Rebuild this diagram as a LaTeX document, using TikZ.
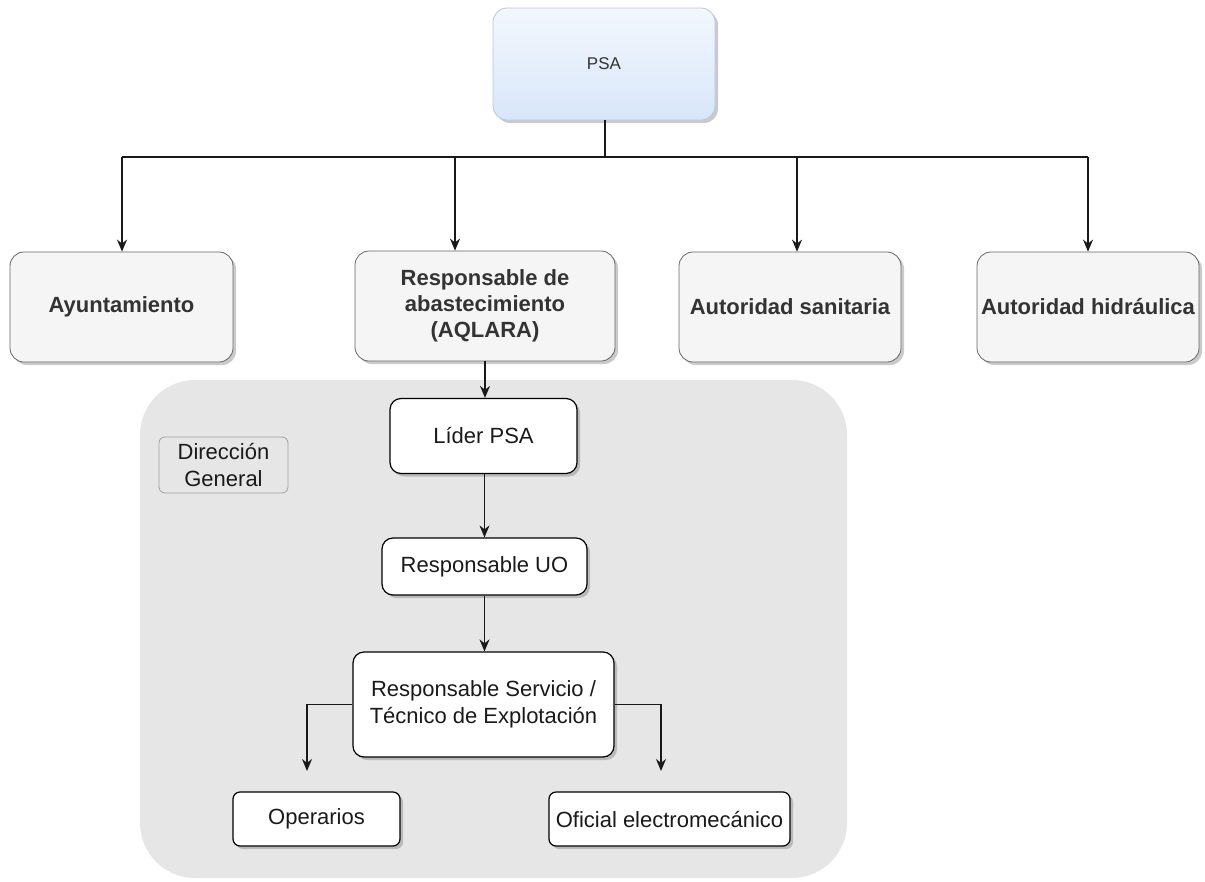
\documentclass[tikz,border=0pt]{standalone}
\usepackage{fontspec}
\setmainfont{Liberation Sans}
\usetikzlibrary{shadows,arrows.meta}
\definecolor{cgrayline}{HTML}{666666}
\definecolor{cgrayfill}{HTML}{F5F5F5}
\definecolor{ctext}{HTML}{333333}
\definecolor{cdark}{HTML}{1A1A1A}
\definecolor{cgroup}{HTML}{E6E6E6}
\definecolor{cdgline}{HTML}{A0A0A0}
\definecolor{cbluetop}{HTML}{F3F7FD}
\definecolor{cbluebot}{HTML}{D8E6FA}
\definecolor{cblueline}{HTML}{B4C8E4}
\begin{document}
\begin{tikzpicture}[x=1pt,y=-1pt,
  shadowed/.style={drop shadow={shadow xshift=3pt,shadow yshift=-3pt,opacity=0.35,fill=black!60}},
  psabox/.style={shadowed,draw=cblueline,line width=0.8pt,top color=cbluetop,bottom color=cbluebot,
    rounded corners=14pt,inner sep=0pt,font=\fontsize{17}{20}\selectfont,text=ctext,
    minimum width=222pt,minimum height=112pt},
  topbox/.style={shadowed,draw=cgrayline,fill=cgrayfill,line width=0.8pt,rounded corners=14pt,
    inner sep=0pt,align=center,font=\fontsize{22}{26}\selectfont\bfseries,text=ctext,
    minimum height=110pt},
  innerbox/.style={shadowed,draw=black,fill=white,line width=1.2pt,rounded corners=11pt,
    inner sep=0pt,align=center,font=\fontsize{22}{27}\selectfont,text=cdark},
  smallbox/.style={innerbox,rounded corners=7pt,minimum height=54pt},
  groupbox/.style={fill=cgroup,rounded corners=55pt,inner sep=0pt},
  dgbox/.style={draw=cdgline,fill=cgroup,line width=0.8pt,rounded corners=6pt,inner sep=0pt,
    align=center,font=\fontsize{22}{27}\selectfont,text=cdark,minimum width=129pt,minimum height=56pt},
  conn/.style={line width=1.5pt,draw=black!90},
  arr/.style={conn,-{Stealth[length=12pt,width=10pt]}}
]
\useasboundingbox (0,0) rectangle (1205,881);
% group background
\node[groupbox,minimum width=707pt,minimum height=498pt] (grp) at (493.5,629) {};
\node[dgbox] (dg) at (223.5,465) {Dirección\\General};
% top
\node[psabox] (psa) at (604,64) {PSA};
\node[topbox,minimum width=223pt] (ay) at (121.5,307) {Ayuntamiento};
\node[topbox,minimum width=260pt] (aq) at (485,306) {Responsable de\\abastecimiento\\(AQLARA)};
\node[topbox,minimum width=222pt] (san) at (790,307) {Autoridad sanitaria};
\node[topbox,minimum width=222pt] (hid) at (1088,307) {Autoridad hidráulica};
% inner
\node[innerbox,minimum width=187pt,minimum height=75pt] (lider) at (483.5,436) {Líder PSA};
\node[innerbox,minimum width=205pt,minimum height=57pt] (uo) at (484.5,566.5) {Responsable UO};
\node[innerbox,minimum width=261pt,minimum height=105pt] (serv) at (483.5,704.5) {Responsable Servicio /\\Técnico de Explotación};
\node[smallbox,minimum width=167pt] (op) at (316.5,819) {Operarios};
\node[smallbox,minimum width=241pt] (of) at (669.5,819) {Oficial electromecánico};
% bus coordinates
\coordinate (jc) at (605,157);
\coordinate (j1) at (122,157);
\coordinate (j2) at (455,157);
\coordinate (j3) at (797,157);
\coordinate (j4) at (1088,157);
\coordinate (opa) at (307,771);
\coordinate (ofa) at (661,771);
% connectors
\draw[conn] (psa.south -| jc) -- (jc);
\draw[conn] (j1) -- (j4);
\draw[arr] (j1) -- (j1 |- ay.north);
\draw[arr] (j2) -- (j2 |- aq.north);
\draw[arr] (j3) -- (j3 |- san.north);
\draw[arr] (j4) -- (j4 |- hid.north);
\draw[arr] (aq.south) -- (aq.south |- lider.north);
\draw[arr] (lider.south -| uo.north) -- (uo.north);
\draw[arr] (uo.south) -- (uo.south |- serv.north);
\draw[arr] (serv.west) -| (opa);
\draw[arr] (serv.east) -| (ofa);
\end{tikzpicture}
\end{document}
